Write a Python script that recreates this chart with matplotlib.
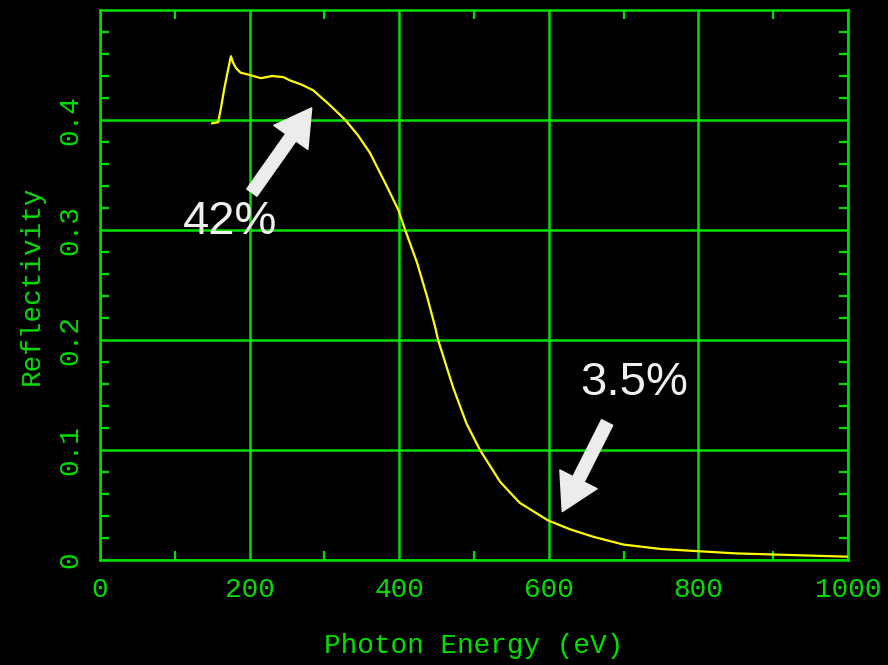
import matplotlib.pyplot as plt
import numpy as np

# photon energy (eV) and reflectivity
energy = [150, 158, 162, 166, 171, 175, 178, 182, 188, 200, 215, 230, 245, 254,
          270, 285, 305, 328, 345, 361, 384, 399, 408, 424, 437, 448, 452, 472,
          490, 508, 535, 561, 599, 628, 660, 700, 750, 800, 850, 900, 950, 1000]
reflectivity = [0.397, 0.398, 0.412, 0.428, 0.445, 0.458, 0.452, 0.447, 0.443,
                0.441, 0.438, 0.440, 0.439, 0.436, 0.432, 0.427, 0.415, 0.400,
                0.386, 0.370, 0.339, 0.318, 0.300, 0.270, 0.240, 0.212, 0.200,
                0.157, 0.124, 0.100, 0.071, 0.052, 0.036, 0.028, 0.021, 0.014,
                0.010, 0.008, 0.006, 0.005, 0.004, 0.003]

notes = ["42%", "3.5%"]
note_pos = [(174, 0.307), (714, 0.161)]
arrow_tail = [(203, 0.334), (678, 0.125)]
arrow_tip = [(283, 0.411), (618, 0.044)]

green = '#00e000'
tick_font = 'Liberation Mono'

fig = plt.figure(figsize=(8.88, 6.65), dpi=100, facecolor='black')
ax = fig.add_axes([100 / 888, 105 / 665, 748 / 888, 550 / 665])
ax.set_facecolor('black')

ax.plot(energy, reflectivity, color='#ffff00', lw=1.6, zorder=3)

ax.set_xlim(0, 1000)
ax.set_ylim(0, 0.5)
ax.set_xticks(np.arange(0, 1001, 200))
ax.set_xticks(np.arange(0, 1001, 100), minor=True)
ax.set_yticks([0, 0.1, 0.2, 0.3, 0.4])
ax.set_yticks(np.arange(0, 0.5, 0.02), minor=True)
ax.set_yticklabels(['0', '0.1', '0.2', '0.3', '0.4'], rotation=90, va='center')
ax.grid(True, which='major', color=green, lw=1.8)
ax.set_axisbelow(True)

ax.tick_params(which='both', direction='in', colors=green, top=True, right=True,
               labelsize=20)
ax.tick_params(which='major', length=0, width=1.8)
ax.tick_params(which='minor', length=6.5, width=1.6)
ax.tick_params(axis='x', pad=12)
ax.tick_params(axis='y', pad=12)
for lab in ax.get_xticklabels() + ax.get_yticklabels():
    lab.set_family(tick_font)
for sp in ax.spines.values():
    sp.set_color(green)
    sp.set_linewidth(1.8)

ax.set_xlabel('Photon Energy (eV)', color=green, fontsize=20, family=tick_font,
              labelpad=22)
ax.set_ylabel('Reflectivity', color=green, fontsize=20, family=tick_font,
              labelpad=9)

for txt, pos, tail, tip in zip(notes, note_pos, arrow_tail, arrow_tip):
    ax.annotate('', xy=tip, xytext=tail,
                arrowprops=dict(arrowstyle='simple,head_length=1.3,head_width=1.5,tail_width=0.45',
                                mutation_scale=20, color='#ececec', shrinkA=0, shrinkB=0),
                zorder=4)
    ax.text(pos[0], pos[1], txt, color='#f0f0f0', fontsize=34, family='Liberation Sans',
            ha='center', va='center', zorder=4)

fig.savefig('out.png', dpi=100, facecolor='black')
